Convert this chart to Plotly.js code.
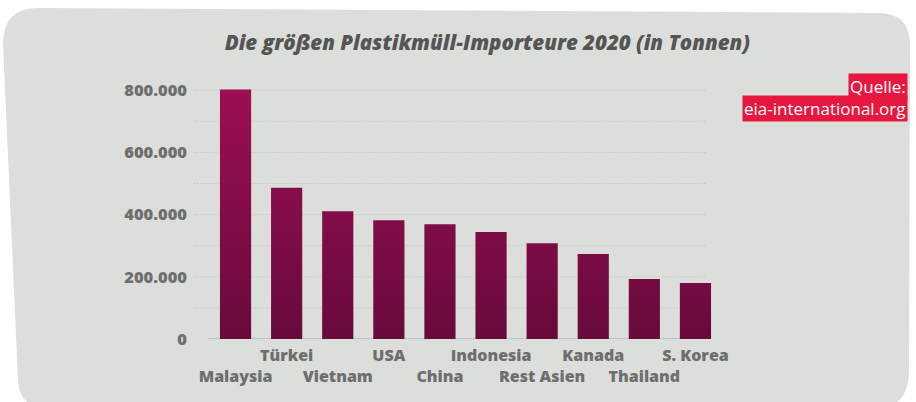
<!DOCTYPE html>
<html>
<head>
<meta charset="utf-8">
<script src="https://cdn.plot.ly/plotly-3.0.1.min.js"></script>
<style>
  html, body { margin: 0; padding: 0; background: #ffffff; }
  #wrap { position: relative; width: 916px; height: 402px; overflow: hidden; }
  #bg { position: absolute; left: 0; top: 0; }
  #chart { position: absolute; left: 0; top: 0; width: 916px; height: 402px; }
</style>
</head>
<body>
<div id="wrap">
  <svg id="bg" width="916" height="402">
    <path d="M 3,44 Q 3,8 38,8 L 878,13 Q 910,13 910,45 L 909,372 Q 908,408 876,408 L 48,408 Q 19,408 18,380 Z" fill="#dcdedb"/>
  </svg>
  <div id="chart"></div>
</div>
<script>
const categories = ["Malaysia", "Türkei", "Vietnam", "USA", "China", "Indonesia", "Rest Asien", "Kanada", "Thailand", "S. Korea"];
const imports = [802000, 486000, 411000, 382000, 369000, 344000, 308000, 273000, 193000, 180000];
const yTicks = [0, 200000, 400000, 600000, 800000];
const gridValues = [100000, 200000, 300000, 400000, 500000, 600000, 700000, 800000];
const titleText = "Die größen Plastikmüll-Importeure 2020 (in Tonnen)";
const sourceLines = ["Quelle:", "eia-international.org"];

const tickText = categories.map((c, i) => (i % 2 === 0 ? "<br>" + c : c));

const shapes = gridValues.map(v => ({
  type: "line", xref: "paper", yref: "y",
  x0: -0.031, x1: 0.973, y0: v, y1: v,
  line: { color: "#bfc1be", width: 1, dash: "1px,2px" },
  layer: "below"
}));
shapes.push({
  type: "line", xref: "paper", yref: "y",
  x0: -0.004, x1: 0.969, y0: 0, y1: 0,
  line: { color: "#b8b9b7", width: 1.5 },
  layer: "below"
});

const data = [{
  type: "bar",
  x: categories,
  y: imports,
  marker: { color: "#820c48", line: { width: 0 } },
  hoverinfo: "x+y"
}];

const layout = {
  width: 916, height: 402,
  margin: { l: 210, r: 195, t: 84, b: 63 },
  paper_bgcolor: "rgba(0,0,0,0)",
  plot_bgcolor: "rgba(0,0,0,0)",
  separators: ",.",
  bargap: 0.39,
  showlegend: false,
  title: {
    text: titleText,
    xref: "container", yref: "container",
    x: 0.532, y: 0.893, xanchor: "center", yanchor: "middle",
    font: { family: "Open Sans", size: 20.5, color: "#555555", weight: 800, style: "italic" }
  },
  xaxis: {
    type: "category",
    tickmode: "array",
    tickvals: categories,
    ticktext: tickText,
    tickangle: 0,
    showgrid: false, zeroline: false, showline: false, ticks: "",
    tickfont: { family: "Open Sans", size: 16, color: "#6e6e6e", weight: 800 },
    ticklabelstandoff: 5,
    fixedrange: true
  },
  yaxis: {
    range: [0, 820000],
    tickmode: "array",
    tickvals: yTicks,
    tickformat: ",d",
    showgrid: false, zeroline: false, showline: false, ticks: "",
    tickfont: { family: "Open Sans", size: 16.5, color: "#6e6e6e", weight: 800 },
    ticklabelstandoff: 22,
    fixedrange: true
  },
  shapes: shapes,
  annotations: [
    {
      text: sourceLines[0], xref: "paper", yref: "paper",
      x: 1.366, y: 0.99, xanchor: "right", yanchor: "middle",
      showarrow: false, bgcolor: "#e8173f", borderpad: 1,
      font: { family: "Open Sans", size: 17, color: "#ffffff" }
    },
    {
      text: sourceLines[1], xref: "paper", yref: "paper",
      x: 1.366, y: 0.905, xanchor: "right", yanchor: "middle",
      showarrow: false, bgcolor: "#e8173f", borderpad: 1,
      font: { family: "Open Sans", size: 17, color: "#ffffff" }
    }
  ]
};

Plotly.newPlot("chart", data, layout, { displayModeBar: false, staticPlot: true }).then(gd => {
  const svg = gd.querySelector("svg.main-svg");
  const ns = "http://www.w3.org/2000/svg";
  let defs = svg.querySelector("defs");
  if (!defs) { defs = document.createElementNS(ns, "defs"); svg.insertBefore(defs, svg.firstChild); }
  const ya = gd._fullLayout.yaxis;
  const grad = document.createElementNS(ns, "linearGradient");
  grad.setAttribute("id", "barGrad");
  grad.setAttribute("gradientUnits", "userSpaceOnUse");
  grad.setAttribute("x1", "0"); grad.setAttribute("x2", "0");
  grad.setAttribute("y1", String(ya.l2p(imports[0])));
  grad.setAttribute("y2", String(ya.l2p(0)));
  [["0", "#9b0f53"], ["1", "#680a3b"]].forEach(([o, c]) => {
    const s = document.createElementNS(ns, "stop");
    s.setAttribute("offset", o); s.setAttribute("stop-color", c);
    grad.appendChild(s);
  });
  defs.appendChild(grad);
  gd.querySelectorAll(".barlayer .point path").forEach(p => { p.style.fill = "url(#barGrad)"; });
});
</script>
</body>
</html>
